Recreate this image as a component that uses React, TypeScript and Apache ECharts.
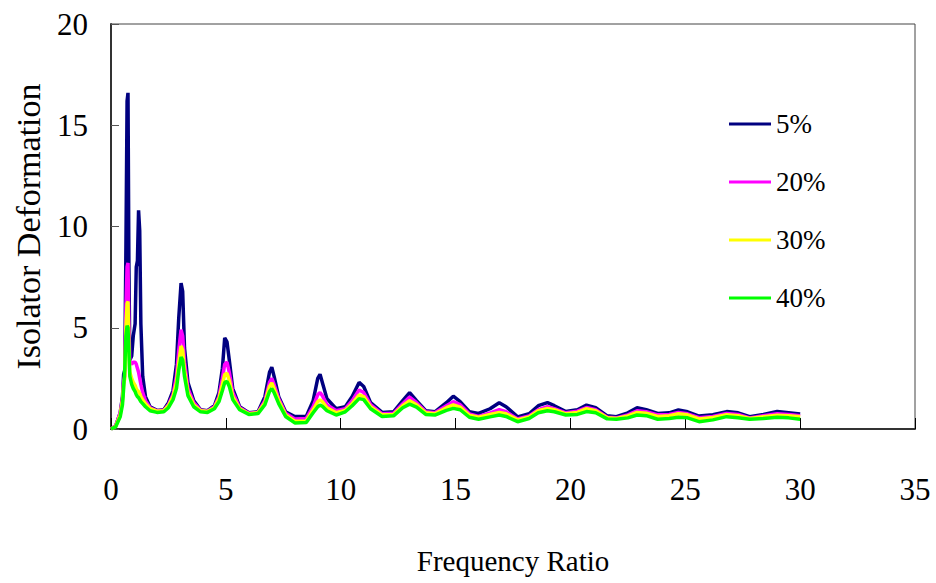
import React, { useEffect, useRef } from "react";
import * as echarts from "echarts";

const freqRatio = [
  0, 0.2, 0.4, 0.5, 0.55, 0.6, 0.65, 0.7, 0.74, 0.78,
  0.82, 0.9, 0.97, 1.05, 1.1, 1.15, 1.2, 1.25, 1.3, 1.38,
  1.5, 1.7, 2.0, 2.3, 2.5, 2.7, 2.85, 2.95, 3.05, 3.12,
  3.2, 3.35, 3.6, 3.9, 4.2, 4.5, 4.7, 4.85, 4.95, 5.05,
  5.15, 5.3, 5.6, 6.0, 6.4, 6.7, 6.9, 7.0, 7.1, 7.3,
  7.6, 8.0, 8.5, 8.8, 9.0, 9.1, 9.2, 9.4, 9.8, 10.2,
  10.5, 10.8, 11.0, 11.3, 11.8, 12.3, 12.7, 13.0, 13.3, 13.7,
  14.1, 14.6, 14.9, 15.2, 15.6, 16.0, 16.5, 16.9, 17.2, 17.7,
  18.2, 18.6, 19.0, 19.3, 19.8, 20.3, 20.7, 21.1, 21.6, 22.0,
  22.5, 22.9, 23.3, 23.8, 24.3, 24.7, 25.1, 25.6, 26.2, 26.8,
  27.3, 27.8, 28.4, 29.0, 29.5, 30.0,
];

const damping5 = [
  0, 0.15, 0.8, 1.6, 2.7, 2.9, 9, 16.2, 16.6, 8,
  3.4, 3.6, 4.6, 5.2, 8.0, 8.3, 10.8, 9.8, 5.2, 2.6,
  1.6, 1.1, 0.92, 0.95, 1.3, 1.9, 3.2, 5.5, 7.2, 6.8,
  4.0, 2.3, 1.4, 0.95, 0.9, 1.15, 1.8, 3.0, 4.5, 4.3,
  3.4, 2.0, 1.1, 0.8, 0.85, 1.6, 2.8, 3.05, 2.6, 1.6,
  0.85, 0.62, 0.62, 1.4, 2.5, 2.7, 2.3, 1.5, 1.0, 1.1,
  1.6, 2.3, 2.1, 1.3, 0.82, 0.85, 1.4, 1.8, 1.4, 0.9,
  0.85, 1.3, 1.62, 1.35, 0.85, 0.77, 1.0, 1.3, 1.1, 0.6,
  0.75, 1.15, 1.3, 1.15, 0.86, 0.95, 1.18, 1.05, 0.65, 0.61,
  0.8, 1.05, 0.95, 0.77, 0.8, 0.94, 0.85, 0.64, 0.7, 0.86,
  0.8, 0.61, 0.72, 0.86, 0.8, 0.74,
];

const damping20 = [
  0, 0.15, 0.8, 1.5, 2.4, 2.6, 6, 8.0, 8.2, 5,
  3.3, 3.2, 3.3, 3.3, 3.2, 3.0, 2.8, 2.5, 2.2, 1.8,
  1.4, 1.05, 0.9, 0.92, 1.2, 1.7, 2.6, 3.9, 4.9, 4.6,
  3.3, 2.0, 1.3, 0.93, 0.88, 1.1, 1.6, 2.5, 3.2, 3.3,
  2.8, 1.8, 1.05, 0.78, 0.82, 1.4, 2.3, 2.5, 2.2, 1.5,
  0.78, 0.5, 0.52, 1.1, 1.7, 1.8, 1.65, 1.2, 0.9, 1.0,
  1.4, 1.93, 1.8, 1.2, 0.75, 0.78, 1.25, 1.58, 1.3, 0.85,
  0.8, 1.15, 1.35, 1.2, 0.75, 0.62, 0.8, 0.95, 0.85, 0.5,
  0.65, 0.95, 1.1, 1.0, 0.8, 0.88, 1.06, 0.95, 0.58, 0.55,
  0.7, 0.9, 0.85, 0.7, 0.72, 0.82, 0.75, 0.56, 0.62, 0.77,
  0.72, 0.55, 0.65, 0.75, 0.72, 0.66,
];

const damping30 = [
  0, 0.12, 0.7, 1.4, 2.2, 2.5, 5, 6.2, 6.3, 4,
  2.8, 2.5, 2.3, 2.15, 2.0, 1.9, 1.85, 1.75, 1.6, 1.45,
  1.25, 1.0, 0.88, 0.9, 1.15, 1.6, 2.3, 3.3, 4.1, 3.9,
  2.9, 1.8, 1.2, 0.9, 0.86, 1.05, 1.5, 2.2, 2.7, 2.75,
  2.4, 1.6, 1.0, 0.75, 0.8, 1.3, 2.1, 2.27, 2.0, 1.4,
  0.7, 0.38, 0.4, 0.95, 1.35, 1.43, 1.35, 1.05, 0.8, 0.92,
  1.25, 1.68, 1.6, 1.1, 0.7, 0.72, 1.15, 1.4, 1.2, 0.8,
  0.75, 1.05, 1.19, 1.08, 0.68, 0.58, 0.72, 0.82, 0.75, 0.45,
  0.6, 0.9, 1.02, 0.95, 0.75, 0.82, 1.0, 0.9, 0.55, 0.52,
  0.65, 0.82, 0.78, 0.62, 0.66, 0.75, 0.7, 0.5, 0.57, 0.7,
  0.66, 0.52, 0.6, 0.68, 0.66, 0.6,
];

const damping40 = [
  0, 0.1, 0.6, 1.2, 2.0, 3.0, 4.6, 5.1, 5.0, 3.8,
  2.6, 2.2, 2.0, 1.85, 1.7, 1.6, 1.55, 1.45, 1.35, 1.25,
  1.1, 0.9, 0.82, 0.85, 1.05, 1.45, 2.0, 2.9, 3.55, 3.4,
  2.6, 1.65, 1.1, 0.85, 0.82, 1.0, 1.35, 1.9, 2.3, 2.35,
  2.1, 1.45, 0.95, 0.72, 0.76, 1.2, 1.85, 2.0, 1.8, 1.25,
  0.62, 0.3, 0.32, 0.8, 1.1, 1.18, 1.12, 0.9, 0.69, 0.85,
  1.15, 1.5, 1.45, 1.0, 0.62, 0.65, 1.05, 1.23, 1.08, 0.72,
  0.69, 0.92, 1.02, 0.95, 0.58, 0.48, 0.6, 0.69, 0.62, 0.36,
  0.52, 0.8, 0.9, 0.85, 0.69, 0.72, 0.86, 0.8, 0.5, 0.48,
  0.55, 0.69, 0.66, 0.48, 0.52, 0.58, 0.55, 0.36, 0.45, 0.61,
  0.56, 0.48, 0.52, 0.58, 0.55, 0.48,
];

const seriesNames = ["5%", "20%", "30%", "40%"];
const seriesColors = ["#000080", "#FF00FF", "#FFFF00", "#00FF00"];
const seriesValues = [damping5, damping20, damping30, damping40];

const FONT = "'Liberation Serif', 'Times New Roman', serif";

export default function App() {
  const ref = useRef<HTMLDivElement>(null);

  useEffect(() => {
    if (!ref.current) return;
    const chart = echarts.init(ref.current, undefined, { renderer: "svg" });
    chart.setOption({
      animation: false,
      backgroundColor: "#ffffff",
      textStyle: { fontFamily: FONT },
      grid: {
        left: 111,
        right: 21,
        top: 24,
        bottom: 154,
        containLabel: false,
        show: true,
        borderColor: "#444",
        borderWidth: 1,
        backgroundColor: "transparent",
      },
      legend: {
        orient: "vertical",
        left: 724,
        top: 104,
        icon: "rect",
        itemWidth: 42,
        itemHeight: 3,
        itemGap: 28,
        data: seriesNames,
        textStyle: {
          fontFamily: FONT,
          fontSize: 27,
          color: "#000",
          lineHeight: 30,
          padding: [0, 0, 0, 0],
        },
      },
      xAxis: {
        type: "value",
        min: 0,
        max: 35,
        interval: 5,
        name: "Frequency Ratio",
        nameLocation: "middle",
        nameGap: 117,
        nameTextStyle: { fontFamily: FONT, fontSize: 29, color: "#000" },
        axisLine: { show: true, onZero: false, lineStyle: { color: "#333", width: 2 } },
        axisTick: { show: true, inside: true, length: 11, lineStyle: { color: "#000", width: 1 } },
        axisLabel: { fontFamily: FONT, fontSize: 31, color: "#000", margin: 45 },
        splitLine: { show: false },
      },
      yAxis: {
        type: "value",
        min: 0,
        max: 20,
        interval: 5,
        name: "Isolator Deformation",
        nameLocation: "middle",
        nameGap: 66,
        nameTextStyle: { fontFamily: FONT, fontSize: 34, color: "#000" },
        axisLine: { show: true, onZero: false, lineStyle: { color: "#333", width: 2 } },
        axisTick: { show: true, inside: true, length: 8, lineStyle: { color: "#555", width: 1 } },
        axisLabel: { fontFamily: FONT, fontSize: 31, color: "#000", margin: 23 },
        splitLine: { show: false },
      },
      series: seriesNames.map((name, i) => ({
        name,
        type: "line",
        showSymbol: false,
        symbol: "none",
        smooth: false,
        color: seriesColors[i],
        lineStyle: { color: seriesColors[i], width: 3.5 },
        data: freqRatio.map((x, j) => [x, seriesValues[i][j]]),
        z: 2 + i,
      })),
    });
    return () => chart.dispose();
  }, []);

  return (
    <div
      ref={ref}
      style={{ position: "fixed", left: 0, top: 0, width: 936, height: 583, background: "#fff" }}
    />
  );
}
